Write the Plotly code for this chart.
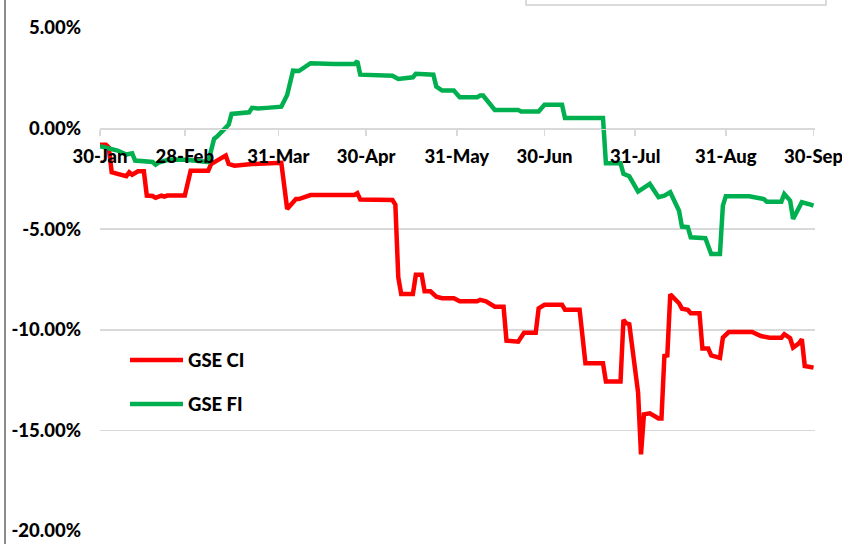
import plotly.graph_objects as go

# ---------------- data ----------------
ci_name = "GSE CI"
ci_dates = ["2020-01-30","2020-02-01","2020-02-02","2020-02-03","2020-02-05","2020-02-08","2020-02-09","2020-02-10",
            "2020-02-12","2020-02-14","2020-02-15","2020-02-17","2020-02-18","2020-02-20","2020-02-21","2020-02-22",
            "2020-02-28","2020-03-01","2020-03-07","2020-03-08","2020-03-10","2020-03-13","2020-03-14","2020-03-16",
            "2020-03-22","2020-04-01","2020-04-03","2020-04-05","2020-04-06","2020-04-07","2020-04-11","2020-04-26",
            "2020-04-27","2020-04-28","2020-05-09","2020-05-10","2020-05-11","2020-05-12","2020-05-16","2020-05-17",
            "2020-05-19","2020-05-20","2020-05-22","2020-05-24","2020-05-26","2020-05-30","2020-06-01","2020-06-07",
            "2020-06-08","2020-06-10","2020-06-13","2020-06-16","2020-06-17","2020-06-21","2020-06-23","2020-06-27",
            "2020-06-28","2020-06-30","2020-07-06","2020-07-07","2020-07-12","2020-07-14","2020-07-20","2020-07-21",
            "2020-07-26","2020-07-27","2020-07-28","2020-07-29","2020-08-01","2020-08-02","2020-08-03","2020-08-05",
            "2020-08-08","2020-08-09","2020-08-10","2020-08-11","2020-08-12","2020-08-15","2020-08-16","2020-08-18",
            "2020-08-19","2020-08-22","2020-08-23","2020-08-25","2020-08-26","2020-08-29","2020-08-30","2020-09-01",
            "2020-09-09","2020-09-12","2020-09-15","2020-09-19","2020-09-20","2020-09-22","2020-09-23","2020-09-25",
            "2020-09-26","2020-09-27","2020-09-29","2020-09-30"]
ci_values = [-0.80,-0.80,-0.93,-2.17,-2.25,-2.37,-2.17,-2.29,
             -2.12,-2.12,-3.33,-3.35,-3.44,-3.33,-3.38,-3.33,
             -3.33,-2.09,-2.09,-1.76,-1.59,-1.34,-1.76,-1.84,
             -1.76,-1.70,-3.99,-3.66,-3.50,-3.50,-3.30,-3.30,
             -3.21,-3.53,-3.55,-3.78,-7.39,-8.22,-8.22,-7.27,
             -7.27,-8.09,-8.09,-8.35,-8.43,-8.43,-8.58,-8.58,
             -8.51,-8.58,-8.85,-8.85,-10.54,-10.59,-10.15,-10.15,
             -8.93,-8.76,-8.76,-9.00,-9.00,-11.66,-11.66,-12.57,
             -12.57,-9.51,-9.68,-9.72,-13.12,-16.19,-14.20,-14.15,
             -14.41,-14.41,-11.30,-11.27,-8.24,-8.68,-8.95,-9.01,
             -9.18,-9.18,-10.93,-10.93,-11.27,-11.40,-10.39,-10.11,
             -10.11,-10.31,-10.39,-10.39,-10.22,-10.42,-10.88,-10.67,
             -10.47,-11.80,-11.83,-11.88]

fi_name = "GSE FI"
fi_dates = ["2020-01-30","2020-02-02","2020-02-05","2020-02-08","2020-02-10","2020-02-11","2020-02-17","2020-02-18",
            "2020-02-19","2020-02-22","2020-02-27","2020-03-02","2020-03-06","2020-03-07","2020-03-09","2020-03-10",
            "2020-03-12","2020-03-14","2020-03-15","2020-03-21","2020-03-22","2020-03-24","2020-03-27","2020-03-31",
            "2020-04-01","2020-04-03","2020-04-05","2020-04-07","2020-04-08","2020-04-11","2020-04-19","2020-04-26",
            "2020-04-27","2020-04-28","2020-05-09","2020-05-11","2020-05-16","2020-05-17","2020-05-23","2020-05-24",
            "2020-05-26","2020-05-30","2020-06-01","2020-06-07","2020-06-08","2020-06-09","2020-06-13","2020-06-21",
            "2020-06-22","2020-06-28","2020-06-30","2020-07-06","2020-07-07","2020-07-20","2020-07-21","2020-07-26",
            "2020-07-27","2020-07-29","2020-08-01","2020-08-05","2020-08-08","2020-08-10","2020-08-12","2020-08-15",
            "2020-08-16","2020-08-18","2020-08-19","2020-08-24","2020-08-26","2020-08-29","2020-08-30","2020-08-31",
            "2020-09-08","2020-09-13","2020-09-14","2020-09-19","2020-09-20","2020-09-22","2020-09-23","2020-09-26",
            "2020-09-29","2020-09-30"]
fi_values = [-0.88,-1.01,-1.09,-1.29,-1.23,-1.59,-1.66,-1.79,
             -1.69,-1.56,-1.54,-1.59,-1.66,-1.66,-0.51,-0.40,
             -0.10,0.20,0.73,0.81,1.03,1.00,1.03,1.09,
             1.09,1.67,2.88,2.86,2.97,3.25,3.21,3.21,
             3.35,2.68,2.63,2.47,2.55,2.72,2.68,2.09,
             1.89,1.89,1.56,1.56,1.64,1.64,0.93,0.93,
             0.85,0.85,1.18,1.18,0.53,0.53,-1.72,-1.72,
             -2.25,-2.37,-3.13,-2.75,-3.41,-3.33,-3.16,-4.08,
             -4.87,-4.90,-5.40,-5.45,-6.23,-6.23,-3.83,-3.36,
             -3.36,-3.50,-3.63,-3.63,-3.25,-3.58,-4.49,-3.66,
             -3.78,-3.83]

x_tick_dates = ["2020-01-30","2020-02-28","2020-03-31","2020-04-30","2020-05-31",
                "2020-06-30","2020-07-31","2020-08-31","2020-09-30"]
x_tick_labels = ["30-Jan","28-Feb","31-Mar","30-Apr","31-May","30-Jun","31-Jul","31-Aug","30-Sep"]
y_tick_values = [-20, -15, -10, -5, 0, 5]
y_tick_labels = ["-20.00%","-15.00%","-10.00%","-5.00%","0.00%","5.00%"]

# ---------------- styling ----------------
RED = "#FF0000"
GREEN = "#00B050"
GRID = "#D9D9D9"
FONT = dict(family="Lato, Carlito, sans-serif", size=18.5, color="#000000", weight=900)

W, H = 842, 544
ML, MR, MT, MB = 100, 27, 28, 13
PW, PH = W - ML - MR, H - MT - MB

fig = go.Figure()
series = [(ci_name, ci_dates, ci_values, RED), (fi_name, fi_dates, fi_values, GREEN)]
for name, xs, ys, col in series:
    fig.add_trace(go.Scatter(x=xs, y=ys, mode="lines", name=name, hoverinfo="skip",
                             line=dict(color=col, width=4.5), showlegend=False))

def px_x(px):
    return (px - ML) / PW

def px_y(py):
    return (H - MB - py) / PH

shapes = []
annotations = []
# manual legend (long line samples like the original)
leg_rows = [360, 404]
for (name, _, _, col), ry in zip(series, leg_rows):
    shapes.append(dict(type="line", xref="paper", yref="paper",
                       x0=px_x(130), x1=px_x(183), y0=px_y(ry), y1=px_y(ry),
                       line=dict(color=col, width=4.5)))
    annotations.append(dict(text=name, xref="paper", yref="paper", x=px_x(186), y=px_y(ry),
                            xanchor="left", yanchor="middle", showarrow=False, font=FONT))

# chart-area border on the left and the partially visible box at top right
shapes.append(dict(type="line", xref="paper", yref="paper", x0=px_x(5), x1=px_x(5),
                   y0=px_y(560), y1=px_y(-20), line=dict(color="#8C8C8C", width=2)))
shapes.append(dict(type="rect", xref="paper", yref="paper", x0=px_x(526), x1=px_x(826),
                   y0=px_y(5), y1=px_y(-20), line=dict(color="#D0D0D0", width=1.5)))

fig.update_layout(
    width=W, height=H,
    margin=dict(l=ML, r=MR, t=MT, b=MB, autoexpand=False),
    paper_bgcolor="white", plot_bgcolor="white",
    font=FONT,
    shapes=shapes, annotations=annotations,
    showlegend=False, hovermode=False,
)
fig.update_xaxes(
    type="date", range=["2020-01-30", "2020-09-30 12:00"],
    tickvals=x_tick_dates, ticktext=x_tick_labels,
    showgrid=False, zeroline=False,
    showline=True, linecolor=GRID, linewidth=1.5,
    ticks="outside", ticklen=6, tickcolor=GRID, tickwidth=1.5,
    anchor="free", position=0.8, automargin=False,
    ticklabeloverflow="allow", ticklabelstandoff=5,
    tickfont=FONT,
)
fig.update_yaxes(
    range=[-20, 5], tickvals=y_tick_values, ticktext=y_tick_labels,
    showgrid=True, gridcolor=GRID, gridwidth=1.5, zeroline=False,
    showline=False, ticks="", tickfont=FONT, ticklabelstandoff=18,
    automargin=False,
)

# remove the page's default body margin so the figure sits at the window's corner
fig.write_html("out.html",
               config={"displayModeBar": False, "staticPlot": True},
               post_script="document.body.style.margin='0';document.body.style.overflow='hidden';")
